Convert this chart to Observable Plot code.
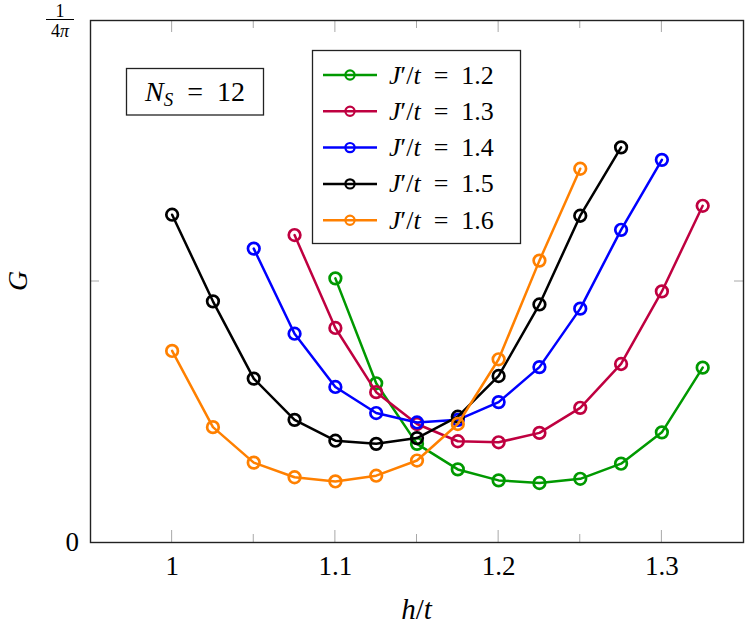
<!DOCTYPE html>
<html>
<head>
<meta charset="utf-8">
<script src="https://cdn.jsdelivr.net/npm/d3@7"></script>
<script src="https://cdn.jsdelivr.net/npm/@observablehq/plot@0.6"></script>
<style>
  html, body { margin: 0; padding: 0; background: #fff; }
  #chart svg { display: block; }
</style>
</head>
<body>
<div id="chart"></div>
<script>
// Values of G are given in units of 1/(4π)
const series = ["1.2", "1.3", "1.4", "1.5", "1.6"];
const colors = ["#009900", "#bf0040", "#0000ff", "#000000", "#ff8000"];

const h12 = [1.1, 1.125, 1.15, 1.175, 1.2, 1.225, 1.25, 1.275, 1.3, 1.325];
const g12 = [0.506, 0.305, 0.189, 0.140, 0.119, 0.114, 0.122, 0.151, 0.211, 0.335];

const h13 = [1.075, 1.1, 1.125, 1.15, 1.175, 1.2, 1.225, 1.25, 1.275, 1.3, 1.325];
const g13 = [0.589, 0.411, 0.288, 0.227, 0.194, 0.192, 0.210, 0.258, 0.342, 0.481, 0.645];

const h14 = [1.05, 1.075, 1.1, 1.125, 1.15, 1.175, 1.2, 1.225, 1.25, 1.275, 1.3];
const g14 = [0.563, 0.400, 0.298, 0.248, 0.230, 0.235, 0.269, 0.336, 0.448, 0.599, 0.733];

const h15 = [1.0, 1.025, 1.05, 1.075, 1.1, 1.125, 1.15, 1.175, 1.2, 1.225, 1.25, 1.275];
const g15 = [0.628, 0.462, 0.314, 0.235, 0.195, 0.189, 0.200, 0.241, 0.319, 0.456, 0.626, 0.757];

const h16 = [1.0, 1.025, 1.05, 1.075, 1.1, 1.125, 1.15, 1.175, 1.2, 1.225, 1.25];
const g16 = [0.367, 0.221, 0.153, 0.125, 0.117, 0.128, 0.157, 0.227, 0.351, 0.540, 0.716];

const xMajor = [1.0, 1.1, 1.2, 1.3];
const xMinor = [1.05, 1.15, 1.25];
const yTicks = [0, 0.5, 1]; // in units of 1/(4π)

const unit = 1 / (4 * Math.PI);
const hs = [h12, h13, h14, h15, h16];
const gs = [g12, g13, g14, g15, g16];
const data = [];
series.forEach((s, i) => {
  hs[i].forEach((h, j) => data.push({ series: s, h, G: gs[i][j] * unit }));
});

const FONT = "'Liberation Serif', 'DejaVu Serif', serif";
const W = 747, H = 626;
const mL = 90, mR = 4, mT = 20, mB = 84;

const marks = [
  Plot.axisX(xMajor, {
    anchor: "bottom", tickSize: 0, tickPadding: 13, fontSize: 27, fontFamily: FONT,
    fill: "#000", label: null, tickFormat: d => d === 1 ? "1" : d3.format(".1f")(d)
  })
];
series.forEach((s, i) => {
  const sub = data.filter(d => d.series === s);
  marks.push(Plot.line(sub, { x: "h", y: "G", stroke: colors[i], strokeWidth: 2.5 }));
  marks.push(Plot.dot(sub, { x: "h", y: "G", stroke: colors[i], strokeWidth: 2.7, r: 5.8, fill: "none" }));
});
marks.push(Plot.frame({ stroke: "#222", strokeWidth: 1.4 }));

const plot = Plot.plot({
  width: W, height: H,
  marginLeft: mL, marginRight: mR, marginTop: mT, marginBottom: mB,
  x: { domain: [0.95, 1.35], axis: null },
  y: { domain: [0, unit], axis: null },
  style: { background: "#fff", fontFamily: FONT },
  marks
});
document.getElementById("chart").appendChild(plot);

const svg = d3.select(plot);
const xs = plot.scale("x"), ys = plot.scale("y");
const pTop = mT, pBottom = H - mB, pLeft = mL, pRight = W - mR;

// inward ticks (drawn under the curves and frame)
const tg = svg.insert("g", ":first-child").attr("stroke", "#a8a8a8").attr("stroke-width", 1);
xMajor.forEach(v => {
  const x = xs.apply(v);
  tg.append("line").attr("x1", x).attr("x2", x).attr("y1", pBottom).attr("y2", pBottom - 12);
  tg.append("line").attr("x1", x).attr("x2", x).attr("y1", pTop).attr("y2", pTop + 12);
});
xMinor.forEach(v => {
  const x = xs.apply(v);
  tg.append("line").attr("x1", x).attr("x2", x).attr("y1", pBottom).attr("y2", pBottom - 8);
  tg.append("line").attr("x1", x).attr("x2", x).attr("y1", pTop).attr("y2", pTop + 8);
});
[yTicks[1]].forEach(v => {
  const y = ys.apply(v * unit);
  tg.append("line").attr("x1", pLeft).attr("x2", pLeft + 9).attr("y1", y).attr("y2", y);
  tg.append("line").attr("x1", pRight).attr("x2", pRight - 9).attr("y1", y).attr("y2", y);
});

// y tick labels
const y0 = ys.apply(yTicks[0] * unit), y1 = ys.apply(yTicks[2] * unit);
svg.append("text").attr("x", mL - 11).attr("y", y0 + 8.5).attr("text-anchor", "end")
  .attr("font-family", FONT).attr("font-size", 27).text("0");
const fx = 60;
svg.append("text").attr("x", fx).attr("y", y1 - 3).attr("text-anchor", "middle")
  .attr("font-family", FONT).attr("font-size", 18).text("1");
svg.append("line").attr("x1", fx - 14).attr("x2", fx + 14).attr("y1", y1 - 0.5).attr("y2", y1 - 0.5)
  .attr("stroke", "#000").attr("stroke-width", 1);
const fr = svg.append("text").attr("x", fx).attr("y", y1 + 17).attr("text-anchor", "middle")
  .attr("font-family", FONT).attr("font-size", 18);
fr.append("tspan").text("4");
fr.append("tspan").attr("font-style", "italic").text("π");

// axis labels
const xl = svg.append("text").attr("x", (pLeft + pRight) / 2).attr("y", 619).attr("text-anchor", "middle")
  .attr("font-family", FONT).attr("font-size", 29);
xl.append("tspan").attr("font-style", "italic").text("h");
xl.append("tspan").text("/");
xl.append("tspan").attr("font-style", "italic").text("t");

svg.append("text").attr("transform", `translate(27,${(pTop + pBottom) / 2}) rotate(-90)`)
  .attr("text-anchor", "middle").attr("font-family", FONT).attr("font-size", 28)
  .attr("font-style", "italic").text("G");

// N_S box
svg.append("rect").attr("x", 126.5).attr("y", 68.5).attr("width", 137).attr("height", 46.5)
  .attr("fill", "#fff").attr("stroke", "#222").attr("stroke-width", 1.3);
const ns = svg.append("text").attr("x", 195).attr("y", 101).attr("text-anchor", "middle")
  .attr("font-family", FONT).attr("font-size", 28);
ns.append("tspan").attr("font-style", "italic").text("N");
ns.append("tspan").attr("font-style", "italic").attr("font-size", 19).attr("dy", 5).text("S");
ns.append("tspan").attr("dy", -5).text("\u2002=\u200212");

// legend
const lg = svg.append("g");
lg.append("rect").attr("x", 312.5).attr("y", 50.5).attr("width", 208).attr("height", 193)
  .attr("fill", "#fff").attr("stroke", "#222").attr("stroke-width", 1.3);
series.forEach((s, i) => {
  const yy = 75 + i * 36.3;
  lg.append("line").attr("x1", 323).attr("x2", 377).attr("y1", yy).attr("y2", yy)
    .attr("stroke", colors[i]).attr("stroke-width", 2.5);
  lg.append("circle").attr("cx", 350).attr("cy", yy).attr("r", 4.6)
    .attr("fill", "none").attr("stroke", colors[i]).attr("stroke-width", 2.2);
  const t = lg.append("text").attr("x", 389).attr("y", yy + 8.5).attr("text-anchor", "start")
    .attr("font-family", FONT).attr("font-size", 26);
  t.append("tspan").attr("font-style", "italic").text("J");
  t.append("tspan").text("\u2032/");
  t.append("tspan").attr("font-style", "italic").text("t");
  t.append("tspan").text("\u2002=\u2002" + s);
});
</script>
</body>
</html>
